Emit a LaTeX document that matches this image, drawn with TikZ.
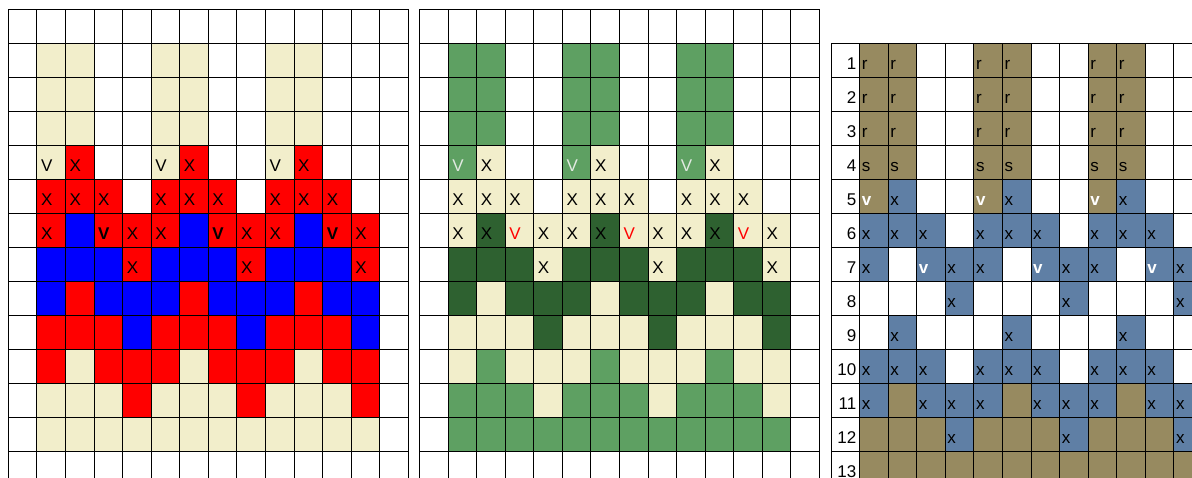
\documentclass[tikz,border=0pt]{standalone}
\usepackage{fontspec}
\setmainfont{Liberation Sans}
\usepackage{xcolor}
\usepackage{tikz}
\definecolor{cream}{HTML}{F2EECB}
\definecolor{leaf}{HTML}{5EA062}
\definecolor{forest}{HTML}{2E6130}
\definecolor{khaki}{HTML}{978A60}
\definecolor{slate}{HTML}{5F7FA5}
\definecolor{mist}{HTML}{E2EAE2}

% one repeat of the chart (cols 1-4), painted three times
\newcommand{\knitfills}[3]{%
  \foreach \k in {0,4,8} {
    \foreach \c/\r in {1/1,2/1,1/2,2/2,1/3,2/3,1/4,2/10,1/11,2/11,3/11,1/12,2/12,3/12,4/12}
      \fill[#1] (\c+\k,\r) rectangle ++(1,1);
    \foreach \c/\r in {2/4,1/5,2/5,3/5,1/6,3/6,4/6,4/7,2/8,1/9,2/9,3/9,1/10,3/10,4/10,4/11}
      \fill[#2] (\c+\k,\r) rectangle ++(1,1);
    \foreach \c/\r in {2/6,1/7,2/7,3/7,1/8,3/8,4/8,4/9}
      \fill[#3] (\c+\k,\r) rectangle ++(1,1);
  }}

\tikzset{
  gridline/.style={black,line width=0.9pt},
  lbl/.style={anchor=base west,inner sep=0pt,xshift=4pt,yshift=8pt,font=\fontsize{17}{17}\selectfont},
  sml/.style={anchor=base west,inner sep=0pt,xshift=2pt,yshift=7.5pt,font=\fontsize{17}{17}\selectfont},
  numlbl/.style={anchor=base east,inner sep=0pt,xshift=-3pt,yshift=7.5pt,font=\fontsize{17}{17}\selectfont}
}

\begin{document}
\begin{tikzpicture}[x=1pt,y=-1pt]
\useasboundingbox (0,0) rectangle (1192,477);
\clip (0,0) rectangle (1192,477);

% left chart
\begin{scope}[xshift=8.3pt,yshift=-9.3pt,x=28.57pt,y=-34pt]
\knitfills{cream}{red}{blue}
\foreach \c in {0,...,14} \draw[gridline] (\c,0) -- (\c,14.5);
\foreach \r in {0,...,13} \draw[gridline] (0,\r) -- (14,\r);
\foreach \k in {0,4,8} {
  \node[lbl] (pa-v4-\k) at (1+\k,5) {V};
  \foreach \c/\r in {2/4,1/5,2/5,3/5,1/6,4/6,4/7}
    \node[lbl] (pa-\c-\r-\k) at (\c+\k,\r+1) {X};
  \node[lbl,font=\fontsize{17}{17}\selectfont\bfseries] (pa-v6-\k) at (3+\k,7) {V};
}
\end{scope}

% middle chart
\begin{scope}[xshift=419.5pt,yshift=-9.3pt,x=28.57pt,y=-34pt]
\knitfills{leaf}{cream}{forest}
\foreach \c in {0,...,14} \draw[gridline] (\c,0) -- (\c,14.5);
\foreach \r in {0,...,13} \draw[gridline] (0,\r) -- (14,\r);
\foreach \k in {0,4,8} {
  \node[lbl,mist] (pb-v4-\k) at (1+\k,5) {V};
  \foreach \c/\r in {2/4,1/5,2/5,3/5,1/6,2/6,4/6,4/7}
    \node[lbl] (pb-\c-\r-\k) at (\c+\k,\r+1) {X};
  \node[lbl,red] (pb-v6-\k) at (3+\k,7) {V};
}
\end{scope}

% right chart with row numbers
\begin{scope}[xshift=831pt,yshift=-9.3pt,x=28.57pt,y=-34pt]
\foreach \k in {0,4,8} {
  \foreach \c/\r in {1/1,2/1,1/2,2/2,1/3,2/3,1/4,2/4,1/5,2/11,1/12,2/12,3/12,1/13,2/13,3/13,4/13}
    \fill[khaki] (\c+\k,\r) rectangle ++(1,1);
  \foreach \c/\r in {2/5,1/6,2/6,3/6,1/7,3/7,4/7,4/8,2/9,1/10,2/10,3/10,1/11,3/11,4/11,4/12}
    \fill[slate] (\c+\k,\r) rectangle ++(1,1);
}
\foreach \c in {0,...,13} \draw[gridline] (\c,1) -- (\c,14.5);
\foreach \r in {1,...,14} \draw[gridline] (0,\r) -- (13,\r);
\foreach \r in {1,...,13} \node[numlbl] (n\r) at (1,\r+1) {\r};
\foreach \k in {0,4,8} {
  \foreach \c/\r in {1/1,2/1,1/2,2/2,1/3,2/3}
    \node[sml] (pc-r-\c-\r-\k) at (\c+\k,\r+1) {r};
  \node[sml] (pc-s1-\k) at (1+\k,5) {s};
  \node[sml] (pc-s2-\k) at (2+\k,5) {s};
  \foreach \c/\r in {2/5,1/6,2/6,3/6,1/7,4/7,4/8,2/9,1/10,2/10,3/10,1/11,3/11,4/11,4/12}
    \node[sml] (pc-x-\c-\r-\k) at (\c+\k,\r+1) {x};
  \node[sml,white,font=\fontsize{17}{17}\selectfont\bfseries] (pc-v5-\k) at (1+\k,6) {v};
  \node[sml,white,font=\fontsize{17}{17}\selectfont\bfseries] (pc-v7-\k) at (3+\k,8) {v};
}
\end{scope}
\end{tikzpicture}
\end{document}
